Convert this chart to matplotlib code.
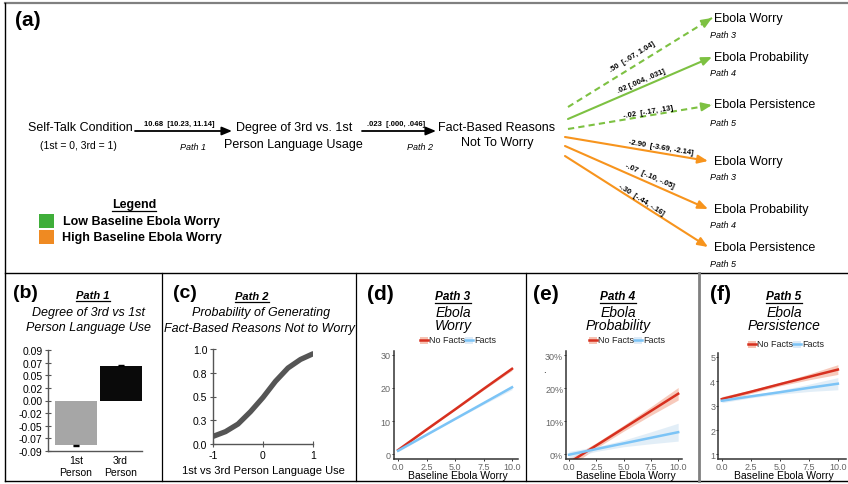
import numpy as np
import matplotlib
matplotlib.use("Agg")
import matplotlib.pyplot as plt
from matplotlib.patches import Rectangle

plt.rcParams['font.family'] = ['Liberation Sans', 'DejaVu Sans']

W, H = 848, 485

# ---- data: panel (a) path model ----
low_labels = ['.50  [-.07, 1.04]', '.02 [.004, .031]', '-.02  [-.17, .13]']
high_labels = ['-2.90  [-3.69, -2.14]', '-.07  [-.10, -.05]', '-.30  [-.44, -.16]']
outcomes = ['Ebola Worry', 'Ebola Probability', 'Ebola Persistence']
outcome_paths = ['Path 3', 'Path 4', 'Path 5']
low_dashed = [True, False, True]

# ---- data: panel (b) ----
b_groups = ['1st\nPerson', '3rd\nPerson']
b_means = [-0.080, 0.062]
b_errs = [0.0012, 0.0012]
b_colors = ['#a6a6a6', '#0a0a0a']
b_ticks = [-0.09, -0.0675, -0.045, -0.0225, 0.0, 0.0225, 0.045, 0.0675, 0.09]
b_ticklabels = ['-0.09', '-0.07', '-0.05', '-0.02', '0.00', '0.02', '0.05', '0.07', '0.09']

# ---- data: panel (c) ----
c_x = [-1, -0.75, -0.5, -0.25, 0, 0.25, 0.5, 0.75, 1]
c_prob = [0.08, 0.13, 0.21, 0.34, 0.49, 0.66, 0.80, 0.89, 0.95]
c_yticks = [0, 0.25, 0.5, 0.75, 1.0]
c_yticklabels = ['0.0', '0.3', '0.5', '0.8', '1.0']

# ---- data: panels (d)-(f), fitted lines with CI half-widths ----
worry = [0, 2.5, 5, 7.5, 10]
d_nofacts = [1.2, 7.4, 13.5, 19.7, 25.8]
d_nofacts_ci = [0.3, 0.2, 0.2, 0.3, 0.5]
d_facts = [1.0, 5.8, 10.6, 15.4, 20.2]
d_facts_ci = [0.3, 0.2, 0.2, 0.4, 0.7]

e_nofacts = [-2.5, 2.7, 7.9, 13.1, 18.3]
e_nofacts_ci = [1.3, 0.8, 0.9, 1.3, 1.9]
e_facts = [-0.1, 1.6, 3.3, 5.0, 6.7]
e_facts_ci = [1.0, 0.7, 1.0, 1.8, 2.7]

f_nofacts = [3.27, 3.57, 3.88, 4.18, 4.48]
f_nofacts_ci = [0.10, 0.07, 0.07, 0.12, 0.20]
f_facts = [3.20, 3.38, 3.55, 3.73, 3.90]
f_facts_ci = [0.08, 0.06, 0.08, 0.15, 0.25]

RED, RED_FILL = '#d7301f', '#f4b4a0'
BLUE, BLUE_FILL = '#7cc4f6', '#d6e7f5'
GREEN, ORANGE = '#7dc142', '#f7941d'

fig = plt.figure(figsize=(W / 100, H / 100), dpi=100)
ax0 = fig.add_axes([0, 0, 1, 1])
ax0.set_xlim(0, W)
ax0.set_ylim(H, 0)
ax0.axis('off')


def rect(x0, y0, x1, y1):
    return [x0 / W, 1 - y1 / H, (x1 - x0) / W, (y1 - y0) / H]


def arrow(x0, y0, x1, y1, color, lw, dashed=False):
    style = '-|>,head_length=0.6,head_width=0.25'
    if dashed:
        ax0.plot([x0, x1], [y0, y1], color=color, lw=lw, dashes=(3, 2))
        t = 10 / np.hypot(x1 - x0, y1 - y0)
        x0, y0 = x1 - (x1 - x0) * t, y1 - (y1 - y0) * t
    ax0.annotate('', xy=(x1, y1), xytext=(x0, y0),
                 arrowprops=dict(arrowstyle=style, color=color, lw=lw,
                                 shrinkA=0, shrinkB=0, mutation_scale=10))


def angle(x0, y0, x1, y1):
    return np.degrees(np.arctan2(-(y1 - y0), x1 - x0))


underlined = []

# ---- frame lines ----
ax0.plot([5, W], [4, 4], color='#808080', lw=1.6)
ax0.plot([5, 5], [4, 482], color='black', lw=1)
ax0.plot([5, W], [274, 274], color='black', lw=1)
ax0.plot([5, W], [482, 482], color='black', lw=1)
for xd in [162, 356, 526]:
    ax0.plot([xd, xd], [274, 482], color='black', lw=0.9)
ax0.plot([699, 699], [274, 482], color='#808080', lw=2)

# ---- panel (a) ----
ax0.text(15, 21, '(a)', fontsize=15, fontweight='bold', va='center')
ax0.text(80, 128, 'Self-Talk Condition', fontsize=9, ha='center', va='center')
ax0.text(78, 146, '(1st = 0, 3rd = 1)', fontsize=7.5, ha='center', va='center')
arrow(135, 132, 232, 132, 'black', 1.3)
ax0.text(179, 124, '10.68  [10.23, 11.14]', fontsize=5.5, fontweight='bold', ha='center', va='center')
ax0.text(193, 148, 'Path 1', fontsize=6.5, style='italic', ha='center', va='center')

ax0.text(294, 128, 'Degree of 3rd vs. 1st', fontsize=9, ha='center', va='center')
ax0.text(293, 145, 'Person Language Usage', fontsize=9, ha='center', va='center')
arrow(362, 132, 436, 132, 'black', 1.3)
ax0.text(396, 124, '.023  [.000, .046]', fontsize=5.5, fontweight='bold', ha='center', va='center')
ax0.text(420, 148, 'Path 2', fontsize=6.5, style='italic', ha='center', va='center')

ax0.text(497, 128, 'Fact-Based Reasons', fontsize=9, ha='center', va='center')
ax0.text(497, 143, 'Not To Worry', fontsize=9, ha='center', va='center')

low_start = [(568, 108), (568, 120), (568, 130)]
low_end = [(712, 19), (712, 58), (712, 106)]
low_label_xy = [(632, 57), (641, 82), (648, 112)]
low_text_y = [19, 58, 105]
low_path_y = [35, 73, 123]
for i in range(3):
    (xs, ys), (xe, ye) = low_start[i], low_end[i]
    arrow(xs, ys, xe, ye, GREEN, 1.5, dashed=low_dashed[i])
    lx, ly = low_label_xy[i]
    ax0.text(lx, ly, low_labels[i], fontsize=5.5, fontweight='bold', ha='center', va='center',
             rotation=angle(xs, ys, xe, ye), rotation_mode='anchor')
    ax0.text(714, low_text_y[i], outcomes[i], fontsize=9, va='center')
    ax0.text(710, low_path_y[i], outcome_paths[i], fontsize=6.5, style='italic', va='center')

high_start = [(565, 138), (565, 147), (565, 157)]
high_end = [(708, 162), (708, 210), (708, 248)]
high_label_xy = [(661, 148), (650, 176), (641, 200)]
high_text_y = [162, 210, 248]
high_path_y = [178, 226, 265]
for i in range(3):
    (xs, ys), (xe, ye) = high_start[i], high_end[i]
    arrow(xs, ys, xe, ye, ORANGE, 1.5)
    lx, ly = high_label_xy[i]
    ax0.text(lx, ly, high_labels[i], fontsize=5.5, fontweight='bold', ha='center', va='center',
             rotation=angle(xs, ys, xe, ye), rotation_mode='anchor')
    ax0.text(714, high_text_y[i], outcomes[i], fontsize=9, va='center')
    ax0.text(710, high_path_y[i], outcome_paths[i], fontsize=6.5, style='italic', va='center')

# legend
underlined.append(ax0.text(134, 205, 'Legend', fontsize=9, fontweight='bold', ha='center', va='center'))
ax0.add_patch(Rectangle((39, 215), 15, 14, fc='#3fae3a', ec='none'))
ax0.add_patch(Rectangle((39, 231), 15, 14, fc='#ef8a22', ec='none'))
ax0.text(63, 222, 'Low Baseline Ebola Worry', fontsize=9, fontweight='bold', va='center')
ax0.text(62, 238, 'High Baseline Ebola Worry', fontsize=9, fontweight='bold', va='center')

# ---- panel (b) ----
ax0.text(13, 294, '(b)', fontsize=14, fontweight='bold', va='center')
underlined.append(ax0.text(93, 296, 'Path 1', fontsize=8, fontweight='bold', style='italic',
                           ha='center', va='center'))
ax0.text(89, 313, 'Degree of 3rd vs 1st', fontsize=9, style='italic', ha='center', va='center')
ax0.text(88, 328, 'Person Language Use', fontsize=9, style='italic', ha='center', va='center')

axb = fig.add_axes(rect(48, 351, 141.5, 452))
axb.patch.set_alpha(0)
axb.bar([0, 1], b_means, width=0.94, color=b_colors)
axb.errorbar([0, 1], b_means, yerr=b_errs, fmt='none', ecolor='black', capsize=2.5, elinewidth=1.2)
axb.set_xlim(-0.63, 1.47)
axb.set_ylim(-0.09, 0.09)
axb.set_yticks(b_ticks, b_ticklabels)
axb.set_xticks([0, 1], b_groups)
for s in ['top', 'right']:
    axb.spines[s].set_visible(False)
for s in ['left', 'bottom']:
    axb.spines[s].set_color('#555555')
    axb.spines[s].set_linewidth(1.0)
axb.tick_params(axis='y', direction='inout', length=4, width=0.8, color='#555555', labelsize=7.5, pad=2)
axb.tick_params(axis='x', length=0, labelsize=7.5, pad=3)

# ---- panel (c) ----
ax0.text(173, 294, '(c)', fontsize=14, fontweight='bold', va='center')
underlined.append(ax0.text(252, 297, 'Path 2', fontsize=8, fontweight='bold', style='italic',
                           ha='center', va='center'))
ax0.text(261, 313, 'Probability of Generating', fontsize=9, style='italic', ha='center', va='center')
ax0.text(259, 329, 'Fact-Based Reasons Not to Worry', fontsize=9, style='italic', ha='center', va='center')

axc = fig.add_axes(rect(213, 350, 313, 445))
axc.patch.set_alpha(0)
axc.plot(c_x, c_prob, color='#555555', lw=3.8, solid_capstyle='round')
axc.set_xlim(-1, 1)
axc.set_ylim(0, 1)
axc.set_yticks(c_yticks, c_yticklabels)
axc.set_xticks([-1, 0, 1], ['-1', '0', '1'])
for s in ['top', 'right']:
    axc.spines[s].set_visible(False)
for s in ['left', 'bottom']:
    axc.spines[s].set_color('#555555')
    axc.spines[s].set_linewidth(1.0)
axc.tick_params(direction='inout', length=4, width=0.8, color='#555555', labelsize=7.5, pad=2)
axc.set_xlabel('1st vs 3rd Person Language Use', fontsize=8, labelpad=4)


# ---- panels (d)-(f), ggplot style ----
def gg_panel(box, xlim, ylim, nofacts, nofacts_ci, facts, facts_ci, yticks, yticklabels):
    ax = fig.add_axes(rect(*box))
    ax.patch.set_alpha(0)
    x = np.array(worry)
    for m, ci, lc, fc in [(nofacts, nofacts_ci, RED, RED_FILL), (facts, facts_ci, BLUE, BLUE_FILL)]:
        m, ci = np.array(m), np.array(ci)
        ax.fill_between(x, m - ci, m + ci, color=fc, alpha=0.7, lw=0)
        ax.plot(x, m, color=lc, lw=1.8)
    ax.set_xlim(*xlim)
    ax.set_ylim(*ylim)
    ax.set_xticks(worry, ['0.0', '2.5', '5.0', '7.5', '10.0'])
    ax.set_yticks(yticks, yticklabels)
    for s in ['top', 'right']:
        ax.spines[s].set_visible(False)
    for s in ['left', 'bottom']:
        ax.spines[s].set_color('#333333')
        ax.spines[s].set_linewidth(1.1)
    ax.tick_params(length=1.5, width=0.7, color='#333333', labelcolor='#666666', labelsize=6.5, pad=0.5)
    # x axis title sits just above the panel border
    xc = (box[0] + box[2]) / 2
    ax0.text(xc + 2, 476.5, 'Baseline Ebola Worry', fontsize=7.5, ha='center', va='center')
    return ax


def gg_titles(xl, xc, label, path, line2, ylegend, xkey):
    ax0.text(xl, 295, label, fontsize=15, fontweight='bold', va='center')
    underlined.append(ax0.text(xc, 297, path, fontsize=8.5, fontweight='bold', style='italic',
                               ha='center', va='center'))
    ax0.text(xc, 313.5, 'Ebola', fontsize=10, style='italic', ha='center', va='center')
    ax0.text(xc, 326, line2, fontsize=10, style='italic', ha='center', va='center')
    for k, (name, lc, fc) in enumerate([('No Facts', RED, RED_FILL), ('Facts', BLUE, BLUE_FILL)]):
        kx = xkey + 45 * k
        ax0.add_patch(Rectangle((kx, ylegend - 3.5), 8, 7, fc=fc, ec='none', alpha=0.8))
        ax0.plot([kx, kx + 8], [ylegend, ylegend], color=lc, lw=1.8)
        ax0.text(kx + 9, ylegend, name, fontsize=6.5, va='center', color='#222222')


gg_titles(367, 453, '(d)', 'Path 3', 'Worry', 341, 420)
gg_panel((393.5, 352.3, 517.7, 460), (-0.4, 10.5), (-1.5, 31.1),
         d_nofacts, d_nofacts_ci, d_facts, d_facts_ci, [0, 10, 20, 30], ['0', '10', '20', '30'])

gg_titles(533, 618, '(e)', 'Path 4', 'Probability', 341, 589)
gg_panel((566, 351.7, 682, 460), (-0.28, 10.35), (-1.4, 31.3),
         e_nofacts, e_nofacts_ci, e_facts, e_facts_ci, [0, 10, 20, 30], ['0%', '10%', '20%', '30%'])
ax0.text(544, 370, '.', fontsize=7, ha='center', va='center')

gg_titles(710, 784, '(f)', 'Path 5', 'Persistence', 345, 748)
gg_panel((718, 354, 846, 460), (-0.33, 10.7), (0.81, 5.16),
         f_nofacts, f_nofacts_ci, f_facts, f_facts_ci, [1, 2, 3, 4, 5], ['1', '2', '3', '4', '5'])

# underline titles
fig.canvas.draw()
for t in underlined:
    bb = t.get_window_extent()
    yy = H - bb.y0 + 0.5
    ax0.plot([bb.x0, bb.x1], [yy, yy], color='black', lw=0.9)

fig.savefig('out.png', dpi=100)
